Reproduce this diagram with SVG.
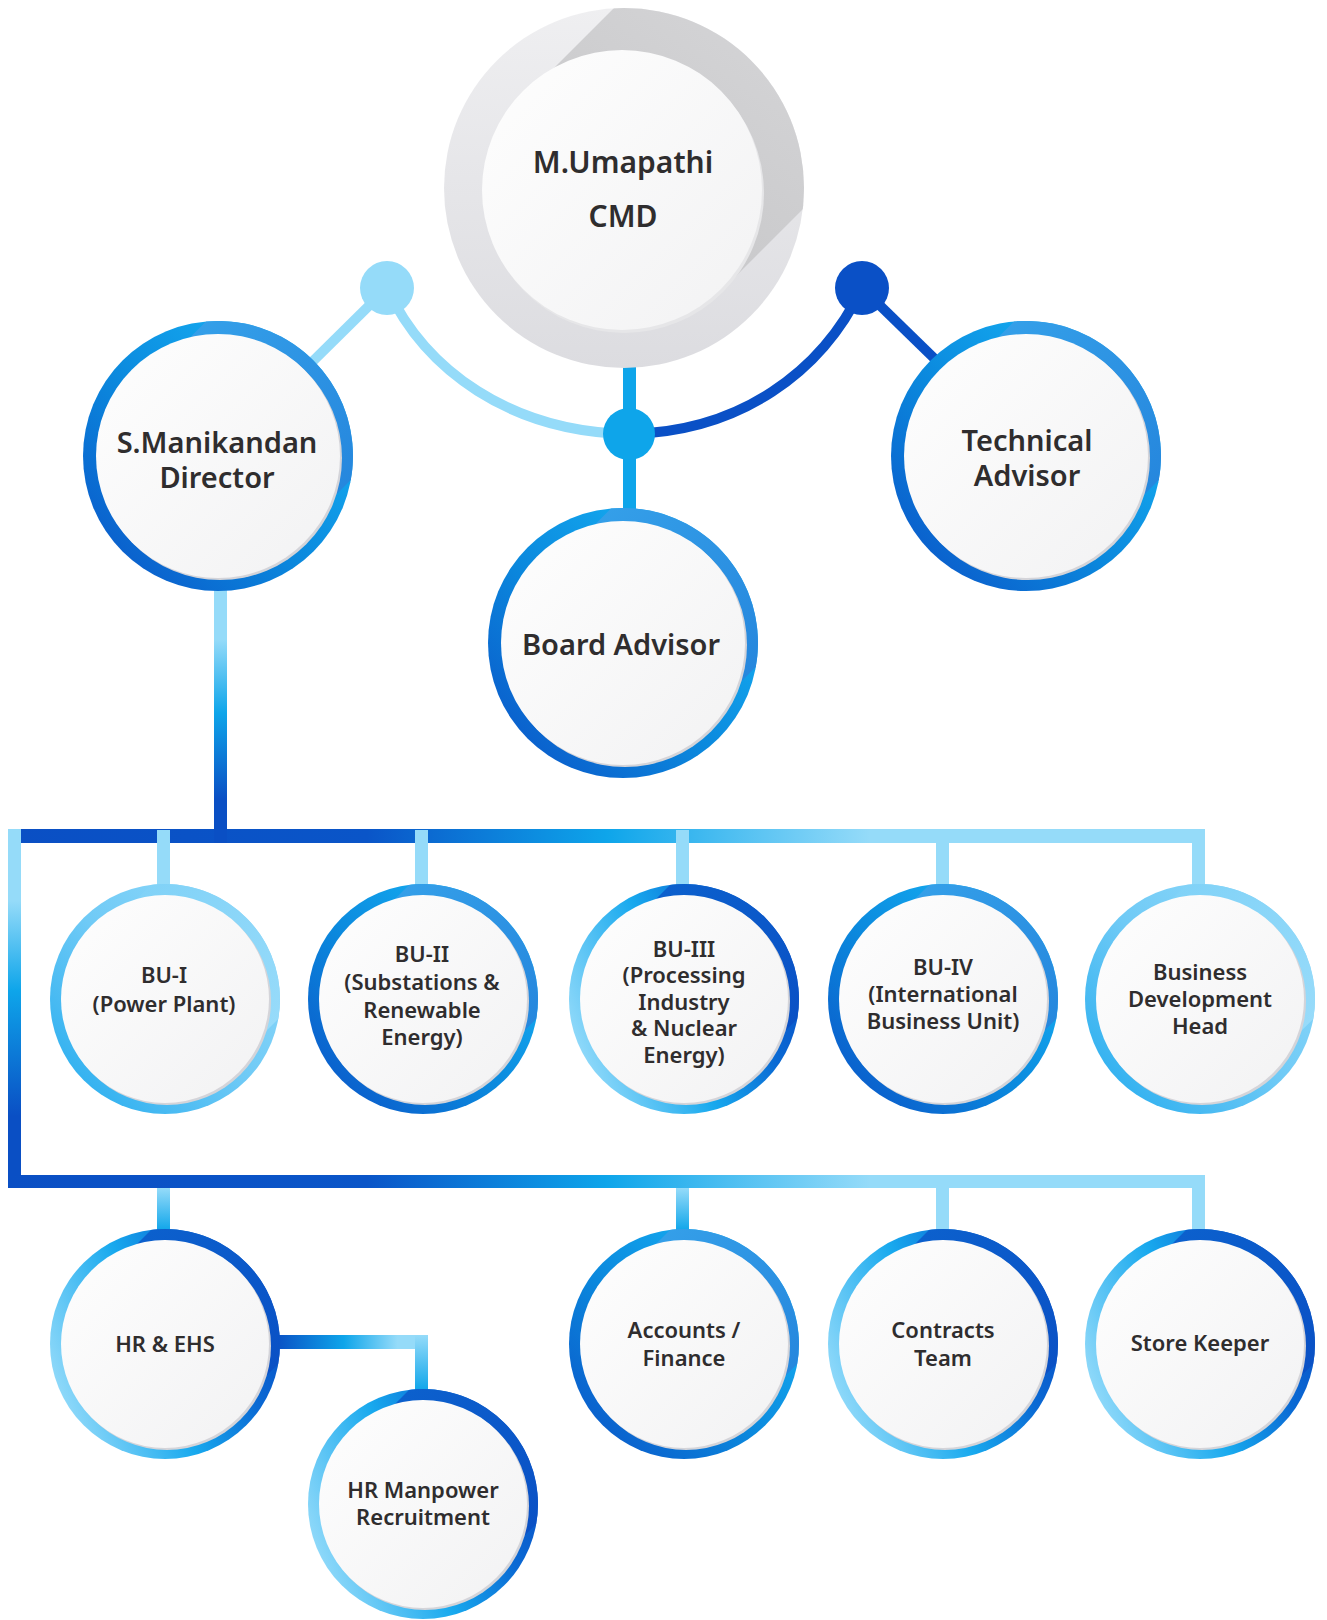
<svg xmlns="http://www.w3.org/2000/svg" width="1327" height="1620" viewBox="0 0 1327 1620">
<defs>
<style>
.t{font-family:"Noto Sans","Open Sans","Liberation Sans",sans-serif;font-weight:600;fill:#2f2d2e;text-anchor:middle}
.big{font-size:29px}
.sm{font-size:22px}
.sh{fill:#d4d4d9}
.in{fill:url(#inner)}
</style>
<linearGradient id="gA" x1="0" y1="1" x2="1" y2="0"><stop offset="0" stop-color="#0a50c6"/><stop offset="0.45" stop-color="#0b88dd"/><stop offset="0.8" stop-color="#14abf0"/><stop offset="1" stop-color="#1cb1f2"/></linearGradient>
<linearGradient id="fA" x1="0" y1="0" x2="1" y2="1"><stop offset="0" stop-color="#36a2ea"/><stop offset="1" stop-color="#2484dc"/></linearGradient>
<linearGradient id="gB" x1="0" y1="0.7" x2="1" y2="0.3"><stop offset="0" stop-color="#97dcfa"/><stop offset="0.45" stop-color="#18a9ee"/><stop offset="0.75" stop-color="#0a6ad4"/><stop offset="1" stop-color="#0a50c6"/></linearGradient>
<linearGradient id="fB" x1="0" y1="0" x2="1" y2="1"><stop offset="0" stop-color="#0c62ce"/><stop offset="1" stop-color="#0a4fc4"/></linearGradient>
<linearGradient id="gC" x1="0" y1="1" x2="1" y2="0"><stop offset="0" stop-color="#1ea9ee"/><stop offset="0.5" stop-color="#6fcaf6"/><stop offset="1" stop-color="#97dcfa"/></linearGradient>
<linearGradient id="fC" x1="0" y1="0" x2="1" y2="1"><stop offset="0" stop-color="#7ed1f7"/><stop offset="1" stop-color="#9adcfa"/></linearGradient>
<linearGradient id="inner" x1="0" y1="0" x2="1" y2="1"><stop offset="0" stop-color="#fefefe"/><stop offset="1" stop-color="#f2f2f3"/></linearGradient>
<linearGradient id="cmdRing" x1="0" y1="0" x2="0" y2="1"><stop offset="0" stop-color="#efeff1"/><stop offset="1" stop-color="#dcdce0"/></linearGradient>
<linearGradient id="cmdFold" x1="0" y1="1" x2="1" y2="0"><stop offset="0" stop-color="#c4c4c6"/><stop offset="1" stop-color="#e2e2e4"/></linearGradient>
<linearGradient id="busH" gradientUnits="userSpaceOnUse" x1="8" y1="0" x2="1205" y2="0"><stop offset="0" stop-color="#0a4fc4"/><stop offset="0.3" stop-color="#0a55c8"/><stop offset="0.5" stop-color="#0ea5ea"/><stop offset="0.72" stop-color="#95dbf9"/><stop offset="1" stop-color="#95dbf9"/></linearGradient>
<linearGradient id="leftV" gradientUnits="userSpaceOnUse" x1="0" y1="829" x2="0" y2="1188"><stop offset="0" stop-color="#95dbf9"/><stop offset="0.2" stop-color="#95dbf9"/><stop offset="0.45" stop-color="#0ea5ea"/><stop offset="0.8" stop-color="#0a4fc4"/><stop offset="1" stop-color="#0a4fc4"/></linearGradient>
<linearGradient id="dirV" gradientUnits="userSpaceOnUse" x1="0" y1="590" x2="0" y2="836"><stop offset="0" stop-color="#95dbf9"/><stop offset="0.2" stop-color="#95dbf9"/><stop offset="0.5" stop-color="#0ea5ea"/><stop offset="0.85" stop-color="#0a4fc4"/><stop offset="1" stop-color="#0a4fc4"/></linearGradient>
<linearGradient id="stemV" x1="0" y1="0" x2="0" y2="1"><stop offset="0" stop-color="#95dbf9"/><stop offset="1" stop-color="#0ea5ea"/></linearGradient>
<linearGradient id="hrH" x1="0" y1="0" x2="1" y2="0"><stop offset="0" stop-color="#0a4fc4"/><stop offset="0.45" stop-color="#0ea5ea"/><stop offset="0.8" stop-color="#95dbf9"/><stop offset="1" stop-color="#95dbf9"/></linearGradient>
<clipPath id="cmdClip"><circle cx="624" cy="188" r="180"/></clipPath>
<path id="foldL" d="M-12,-134.5 A135,135 0 0 1 132.8,24 L92.8,64 L-52,-94.5 Z"/>
<path id="foldS" d="M-14,-114.1 A115,115 0 0 1 113.2,20 L78,55 L-49,-79 Z"/>
</defs>

<g id="connectors">
<path d="M387,288 C425,370 510,432 629,434" fill="none" stroke="#95dbf9" stroke-width="10"/>
<path d="M629,434 C740,432 822,372 862,288" fill="none" stroke="#0a50c6" stroke-width="10"/>
<line x1="387" y1="288" x2="306" y2="368" stroke="#95dbf9" stroke-width="10"/>
<line x1="862" y1="288" x2="940" y2="364" stroke="#0a50c6" stroke-width="10"/>
<rect x="623" y="360" width="13" height="150" fill="#0ea5ea"/>
<circle cx="387" cy="288" r="27" fill="#95dbf9"/>
<circle cx="862" cy="288" r="27" fill="#0a50c6"/>
<circle cx="629" cy="434" r="26" fill="#0ea5ea"/>
<rect x="8" y="829" width="1197" height="14" fill="url(#busH)"/>
<rect x="214" y="588" width="13" height="255" fill="url(#dirV)"/>
<rect x="1192" y="829" width="13" height="56" fill="#95dbf9"/>
<rect x="8" y="829" width="13" height="359" fill="url(#leftV)"/>
<rect x="8" y="1175" width="1197" height="13" fill="url(#busH)"/>
<rect x="1192" y="1175" width="13" height="56" fill="#95dbf9"/>
<rect x="157" y="830" width="13" height="55" fill="#95dbf9"/>
<rect x="415" y="830" width="13" height="55" fill="#95dbf9"/>
<rect x="676" y="830" width="13" height="55" fill="#95dbf9"/>
<rect x="936" y="830" width="13" height="55" fill="#95dbf9"/>
<rect x="157" y="1188" width="13" height="43" fill="url(#stemV)"/>
<rect x="676" y="1188" width="13" height="43" fill="url(#stemV)"/>
<rect x="936" y="1188" width="13" height="43" fill="#95dbf9"/>
<rect x="275" y="1335" width="153" height="14" fill="url(#hrH)"/>
<rect x="415" y="1335" width="13" height="56" fill="url(#stemV)"/>
</g>

<g id="cmd">
<circle cx="624" cy="188" r="180" fill="url(#cmdRing)"/>
<polygon points="552,70 722,-100 1112,-100 723,289" fill="url(#cmdFold)" clip-path="url(#cmdClip)"/>
<circle cx="624" cy="193" r="140" fill="#e6e6e8"/>
<circle cx="622" cy="190" r="140" class="in"/>
<text class="t" x="623" y="173" style="font-size:30px">M.Umapathi</text>
<text class="t" x="623" y="227" style="font-size:30px">CMD</text>
</g>

<g id="director">
<circle cx="218" cy="456" r="135" fill="url(#gA)"/>
<use href="#foldL" x="218" y="456" fill="url(#fA)"/>
<circle cx="220" cy="458" r="122" class="sh"/>
<circle cx="218" cy="456" r="122" class="in"/>
<text class="t big" x="217" y="453">S.Manikandan</text>
<text class="t big" x="217" y="488">Director</text>
</g>

<g id="technical-advisor">
<circle cx="1026" cy="456" r="135" fill="url(#gA)"/>
<use href="#foldL" x="1026" y="456" fill="url(#fA)"/>
<circle cx="1028" cy="458" r="122" class="sh"/>
<circle cx="1026" cy="456" r="122" class="in"/>
<text class="t big" x="1027" y="451">Technical</text>
<text class="t big" x="1027" y="486">Advisor</text>
</g>

<g id="board-advisor">
<circle cx="623" cy="643" r="135" fill="url(#gA)"/>
<use href="#foldL" x="623" y="643" fill="url(#fA)"/>
<circle cx="625" cy="645" r="122" class="sh"/>
<circle cx="623" cy="643" r="122" class="in"/>
<text class="t big" x="621" y="655">Board Advisor</text>
</g>

<g id="bu1">
<circle cx="165" cy="999" r="115" fill="url(#gC)"/>
<use href="#foldS" x="165" y="999" fill="url(#fC)"/>
<circle cx="167" cy="1001" r="104" class="sh"/>
<circle cx="165" cy="999" r="104" class="in"/>
<text class="t sm" x="164" y="983">BU-I</text>
<text class="t sm" x="164" y="1012">(Power Plant)</text>
</g>

<g id="bu2">
<circle cx="423" cy="999" r="115" fill="url(#gA)"/>
<use href="#foldS" x="423" y="999" fill="url(#fA)"/>
<circle cx="425" cy="1001" r="104" class="sh"/>
<circle cx="423" cy="999" r="104" class="in"/>
<text class="t sm" x="422" y="962">BU-II</text>
<text class="t sm" x="422" y="990">(Substations &amp;</text>
<text class="t sm" x="422" y="1018">Renewable</text>
<text class="t sm" x="422" y="1045">Energy)</text>
</g>

<g id="bu3">
<circle cx="684" cy="999" r="115" fill="url(#gB)"/>
<use href="#foldS" x="684" y="999" fill="url(#fB)"/>
<circle cx="686" cy="1001" r="104" class="sh"/>
<circle cx="684" cy="999" r="104" class="in"/>
<text class="t sm" x="684" y="957">BU-III</text>
<text class="t sm" x="684" y="983">(Processing</text>
<text class="t sm" x="684" y="1010">Industry</text>
<text class="t sm" x="684" y="1036">&amp; Nuclear</text>
<text class="t sm" x="684" y="1063">Energy)</text>
</g>

<g id="bu4">
<circle cx="943" cy="999" r="115" fill="url(#gA)"/>
<use href="#foldS" x="943" y="999" fill="url(#fA)"/>
<circle cx="945" cy="1001" r="104" class="sh"/>
<circle cx="943" cy="999" r="104" class="in"/>
<text class="t sm" x="943" y="975">BU-IV</text>
<text class="t sm" x="943" y="1002">(International</text>
<text class="t sm" x="943" y="1029">Business Unit)</text>
</g>

<g id="bd-head">
<circle cx="1200" cy="999" r="115" fill="url(#gC)"/>
<use href="#foldS" x="1200" y="999" fill="url(#fC)"/>
<circle cx="1202" cy="1001" r="104" class="sh"/>
<circle cx="1200" cy="999" r="104" class="in"/>
<text class="t sm" x="1200" y="980">Business</text>
<text class="t sm" x="1200" y="1007">Development</text>
<text class="t sm" x="1200" y="1034">Head</text>
</g>

<g id="hr-ehs">
<circle cx="165" cy="1344" r="115" fill="url(#gB)"/>
<use href="#foldS" x="165" y="1344" fill="url(#fB)"/>
<circle cx="167" cy="1346" r="104" class="sh"/>
<circle cx="165" cy="1344" r="104" class="in"/>
<text class="t sm" x="165" y="1352">HR &amp; EHS</text>
</g>

<g id="hr-manpower">
<circle cx="423" cy="1504" r="115" fill="url(#gB)"/>
<use href="#foldS" x="423" y="1504" fill="url(#fB)"/>
<circle cx="425" cy="1506" r="104" class="sh"/>
<circle cx="423" cy="1504" r="104" class="in"/>
<text class="t sm" x="423" y="1498">HR Manpower</text>
<text class="t sm" x="423" y="1525">Recruitment</text>
</g>

<g id="accounts">
<circle cx="684" cy="1344" r="115" fill="url(#gA)"/>
<use href="#foldS" x="684" y="1344" fill="url(#fA)"/>
<circle cx="686" cy="1346" r="104" class="sh"/>
<circle cx="684" cy="1344" r="104" class="in"/>
<text class="t sm" x="684" y="1338">Accounts /</text>
<text class="t sm" x="684" y="1366">Finance</text>
</g>

<g id="contracts">
<circle cx="943" cy="1344" r="115" fill="url(#gB)"/>
<use href="#foldS" x="943" y="1344" fill="url(#fB)"/>
<circle cx="945" cy="1346" r="104" class="sh"/>
<circle cx="943" cy="1344" r="104" class="in"/>
<text class="t sm" x="943" y="1338">Contracts</text>
<text class="t sm" x="943" y="1366">Team</text>
</g>

<g id="store-keeper">
<circle cx="1200" cy="1344" r="115" fill="url(#gB)"/>
<use href="#foldS" x="1200" y="1344" fill="url(#fB)"/>
<circle cx="1202" cy="1346" r="104" class="sh"/>
<circle cx="1200" cy="1344" r="104" class="in"/>
<text class="t sm" x="1200" y="1351">Store Keeper</text>
</g>
</svg>
